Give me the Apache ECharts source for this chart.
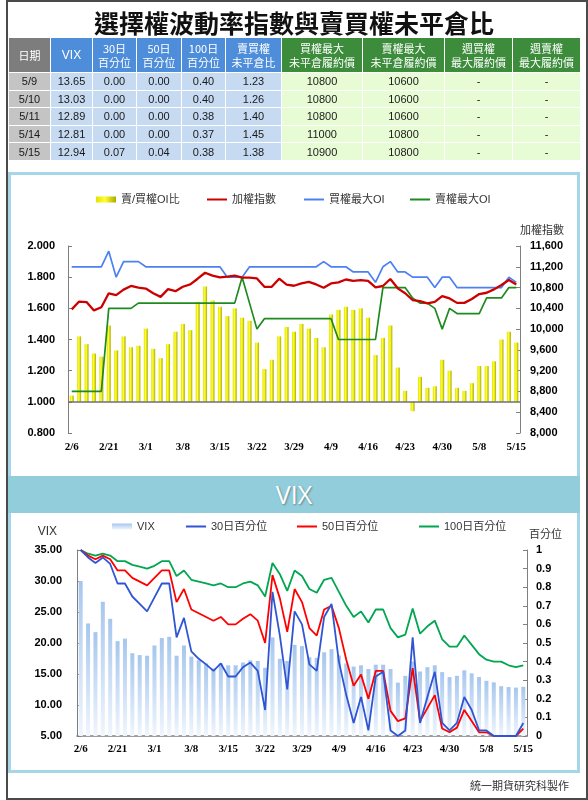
<!DOCTYPE html>
<html><head><meta charset="utf-8">
<script src="https://cdn.jsdelivr.net/npm/echarts@6/dist/echarts.min.js"></script>
<style>
html,body{margin:0;padding:0;background:#fff;}
body{width:588px;height:800px;position:relative;overflow:hidden;font-family:'Liberation Sans','Noto Sans CJK TC',sans-serif;}
#frame{position:absolute;left:6px;top:0;width:582px;height:800px;border:2px solid #4a4a4a;box-sizing:border-box;z-index:0;}
#title{position:absolute;left:0;top:5px;width:588px;text-align:center;font:bold 25px/34px 'Noto Sans CJK TC',sans-serif;color:#111;z-index:3;}
#tbl{position:absolute;left:8px;top:37px;width:572px;border-collapse:collapse;table-layout:fixed;z-index:3;}
#tbl td,#tbl th{border:1px solid #fff;padding:0;text-align:center;}
#tbl th{height:34px;color:#fff;font-weight:normal;font-size:11px;line-height:14px;font-family:'Noto Sans CJK TC','Liberation Sans',sans-serif;}
#tbl th.en{font-family:'Liberation Sans',sans-serif;font-size:12px;}
#tbl td{height:16.6px;font-size:11px;line-height:14px;color:#1a1a1a;}
.hg{background:#7d7d7d;} .hb{background:#4d8dda;} .hgr{background:#3c8c3c;}
.dg{background:#c4c4c4;} .db{background:#c6daf2;} .dgr{background:#e7fcd4;}
#box{position:absolute;left:8px;top:172px;width:572px;height:601px;border:3px solid #a5d5e6;box-sizing:border-box;z-index:1;}
#band{position:absolute;left:8px;top:476px;width:572px;height:37px;background:#92cddc;z-index:1;text-align:center;color:#fff;font:25px/37px 'Open Sans','Noto Sans',sans-serif;text-shadow:1px 1px 2px rgba(0,0,0,0.35);}
#footer{position:absolute;left:470px;top:777px;font:11px/16px 'Noto Sans CJK TC',sans-serif;color:#333;z-index:3;}
#chart{position:absolute;left:0;top:0;width:588px;height:800px;z-index:2;}
</style></head>
<body>
<div id="frame"></div>
<div id="title">選擇權波動率指數與賣買權未平倉比</div>
<table id="tbl">
<colgroup><col style="width:42px"><col style="width:42px"><col style="width:44px"><col style="width:45px"><col style="width:44px"><col style="width:56px"><col style="width:81px"><col style="width:82px"><col style="width:68px"><col style="width:68px"></colgroup>
<thead><tr id="hdr"></tr></thead>
<tbody id="tbody"></tbody>
</table>
<div id="box"></div>
<div id="band">VIX</div>
<div id="footer">統一期貨研究科製作</div>
<div id="chart"></div>
<script>
// ---------- table data ----------
const tableHeaders = ['日期','VIX','30日<br>百分位','50日<br>百分位','100日<br>百分位','賣買權<br>未平倉比','買權最大<br>未平倉履約價','賣權最大<br>未平倉履約價','週買權<br>最大履約價','週賣權<br>最大履約價'];
const tableDates = ['5/9','5/10','5/11','5/14','5/15'];
const tableVix = ['13.65','13.03','12.89','12.81','12.94'];
const table30 = ['0.00','0.00','0.00','0.00','0.07'];
const table50 = ['0.00','0.00','0.00','0.00','0.04'];
const table100 = ['0.40','0.40','0.38','0.37','0.38'];
const tableRatio = ['1.23','1.26','1.40','1.45','1.38'];
const tableCallMax = ['10800','10800','10800','11000','10900'];
const tablePutMax = ['10600','10600','10600','10800','10800'];
const tableWeekCall = ['-','-','-','-','-'];
const tableWeekPut = ['-','-','-','-','-'];

// ---------- chart data ----------
const dates = ['2/6','2/7','2/8','2/9','2/12','2/21','2/22','2/23','2/26','2/27','3/1','3/2','3/5','3/6','3/7','3/8','3/9','3/12','3/13','3/14','3/15','3/16','3/19','3/20','3/21','3/22','3/23','3/26','3/27','3/28','3/29','3/30','3/31','4/2','4/3','4/9','4/10','4/11','4/12','4/13','4/16','4/17','4/18','4/19','4/20','4/23','4/24','4/25','4/26','4/27','4/30','5/2','5/3','5/4','5/7','5/8','5/9','5/10','5/11','5/14','5/15'];
const oiRatio = [1.04,1.42,1.37,1.31,1.29,1.49,1.33,1.42,1.35,1.36,1.47,1.34,1.28,1.37,1.45,1.50,1.46,1.64,1.74,1.65,1.61,1.55,1.60,1.54,1.52,1.38,1.21,1.27,1.42,1.48,1.45,
  1.50,1.47,1.41,1.35,1.56,1.59,1.61,1.59,1.60,1.54,1.30,1.41,1.49,1.22,1.07,0.94,1.16,1.09,1.10,1.27,1.20,1.09,1.07,1.12,1.23,1.23,1.26,1.40,1.45,1.38];
const taiex = [10380,10530,10520,10360,10420,10690,10655,10760,10830,10800,10780,10690,10620,10770,10730,10815,10860,10970,11085,11030,10995,11010,11030,10990,10990,10975,10815,10815,10970,10855,10835,
  10880,10910,10860,10795,10880,10900,10955,10930,10945,10930,10805,10830,10965,10785,10690,10560,10540,10495,10525,10635,10590,10505,10505,10580,10675,10700,10765,10850,10945,10860];
const callMaxOI = [11200,11200,11200,11200,11200,11500,11000,11300,11300,11300,11200,11200,11200,11200,11200,11200,11200,11200,11200,11200,11200,11000,11000,11000,11200,11200,11200,11200,11200,11200,11200,
  11200,11200,11200,11300,11200,11200,11200,11100,11100,11100,10900,11200,11300,11100,11100,11000,11000,11000,10800,11000,11000,10800,10800,10800,10800,10800,10800,10800,11000,10900];
const putMaxOI = [8800,8800,8800,8800,8800,10400,10400,10400,10400,10500,10500,10500,10500,10500,10500,10500,10500,10500,10500,10500,10500,10500,10500,11000,10500,10000,10200,10200,10200,10200,10200,
  10200,10200,10200,10200,10200,9800,9800,9800,9800,9800,9800,10800,10800,10800,10800,10600,10500,10500,10400,10000,10400,10300,10300,10300,10300,10600,10600,10600,10800,10800];
const vix = [30.0,23.15,21.75,26.65,23.9,20.3,20.7,18.35,18.05,17.95,19.6,20.8,21.0,17.95,19.6,17.8,17.2,16.7,15.9,16.7,16.4,16.4,16.85,17.2,17.1,16.0,20.9,17.45,17.1,19.7,
  19.5,17.7,17.6,18.5,19.0,18.0,16.7,16.2,16.4,15.8,16.5,16.5,15.8,13.6,14.7,17.0,15.4,16.1,16.4,15.3,14.5,14.7,15.6,15.1,14.5,13.9,13.65,13.03,12.89,12.81,12.94];
const pct30 = [1.0,0.96,0.93,0.96,0.925,0.82,0.82,0.75,0.71,0.67,0.745,0.82,0.82,0.53,0.635,0.455,0.415,0.385,0.35,0.39,0.32,0.32,0.37,0.395,0.35,0.14,0.775,0.54,0.25,0.67,
  0.60,0.385,0.35,0.64,0.71,0.40,0.22,0.07,0.21,0.03,0.32,0.345,0.03,0.0,0.03,0.53,0.07,0.21,0.345,0.07,0.03,0.07,0.21,0.14,0.03,0.03,0,0,0,0,0.07];
const pct50 = [1.0,0.97,0.95,0.97,0.95,0.89,0.89,0.85,0.83,0.81,0.85,0.89,0.89,0.72,0.79,0.68,0.66,0.64,0.62,0.64,0.60,0.60,0.63,0.655,0.62,0.50,0.865,0.74,0.56,0.79,
  0.72,0.58,0.54,0.68,0.70,0.58,0.41,0.27,0.33,0.20,0.35,0.35,0.135,0.08,0.095,0.365,0.08,0.15,0.22,0.04,0.02,0.045,0.14,0.08,0.02,0.02,0,0,0,0,0.04];
const pct100 = [1.0,0.98,0.97,0.98,0.97,0.94,0.94,0.92,0.91,0.90,0.915,0.94,0.94,0.86,0.89,0.84,0.83,0.82,0.81,0.82,0.80,0.80,0.82,0.83,0.81,0.75,0.93,0.87,0.78,0.89,
  0.86,0.79,0.77,0.84,0.85,0.775,0.70,0.64,0.67,0.61,0.68,0.68,0.58,0.53,0.545,0.685,0.55,0.59,0.62,0.52,0.48,0.48,0.54,0.49,0.44,0.41,0.40,0.40,0.38,0.37,0.38];

// ---------- build table ----------
const hdrClasses = ['hg','hb en','hb','hb','hb','hb','hgr','hgr','hgr','hgr'];
document.getElementById('hdr').innerHTML = tableHeaders.map((h,i)=>'<th class="'+hdrClasses[i]+'">'+h+'</th>').join('');
const cols = [tableDates,tableVix,table30,table50,table100,tableRatio,tableCallMax,tablePutMax,tableWeekCall,tableWeekPut];
const dataClasses = ['dg','db','db','db','db','db','dgr','dgr','dgr','dgr'];
let rows = '';
for (let r=0;r<tableDates.length;r++){
  rows += '<tr>' + cols.map((c,i)=>'<td class="'+dataClasses[i]+'">'+c[r]+'</td>').join('') + '</tr>';
}
document.getElementById('tbody').innerHTML = rows;

// ---------- chart ----------
const chart = echarts.init(document.getElementById('chart'), null, {renderer:'canvas'});
const numFont = {fontFamily:'Liberation Sans', fontWeight:'bold', fontSize:11, color:'#000'};
const axisGray = '#7f7f7f';
const legendText = {fontFamily:"'Liberation Sans','Noto Sans CJK TC'", fontSize:11, color:'#333'};
function lg(name, left, top, h){
  return {data:[name], left:left, top:top, itemWidth:20, itemHeight:h, icon:'rect', padding:0, itemGap:0, textStyle:legendText, selectedMode:false};
}
const yellowGrad = new echarts.graphic.LinearGradient(0,0,1,0,[{offset:0,color:'#e2e200'},{offset:0.45,color:'#ffff30'},{offset:1,color:'#a9a900'}]);
const blueGrad = new echarts.graphic.LinearGradient(0,0,0,1,[{offset:0,color:'#a6c6ee'},{offset:1,color:'#f0f6fd'}]);

const option = {
  animation:false,
  legend:[
    lg('賣/買權OI比',96,194,6), lg('加權指數',207,194,2), lg('買權最大OI',304,194,2), lg('賣權最大OI',410,194,2),
    lg('VIX',112,521,6), lg('30日百分位',186,521,2), lg('50日百分位',297,521,2), lg('100日百分位',419,521,2)
  ],
  grid:[
    {left:68, right:68, top:246, bottom:367},
    {left:77, right:61, top:550, bottom:64}
  ],
  xAxis:[
    {type:'category', gridIndex:0, data:dates, boundaryGap:true,
     axisLine:{show:false}, axisTick:{show:false},
     axisLabel:{interval:4, fontFamily:'Liberation Serif', fontWeight:'bold', fontSize:11, color:'#000', margin:9}},
    {type:'category', gridIndex:1, data:dates, boundaryGap:true,
     axisLine:{show:true, onZero:false, lineStyle:{color:axisGray, width:1.5}}, axisTick:{show:false},
     axisLabel:{interval:4, fontFamily:'Liberation Serif', fontWeight:'bold', fontSize:11, color:'#000', margin:8}}
  ],
  yAxis:[
    {type:'value', gridIndex:0, position:'left', min:0.8, max:2.0, interval:0.2,
     axisLine:{show:true, lineStyle:{color:axisGray}}, axisTick:{show:true, inside:true, length:4, lineStyle:{color:axisGray}},
     splitLine:{show:false}, axisLabel:Object.assign({margin:13, formatter:v=>v.toFixed(3)}, numFont)},
    {type:'value', gridIndex:0, position:'right', min:8000, max:11600, interval:400,
     name:'加權指數', nameLocation:'end', nameGap:11,
     nameTextStyle:{fontFamily:'Noto Sans CJK TC', fontSize:11, color:'#333', align:'left'},
     axisLine:{show:true, lineStyle:{color:axisGray}}, axisTick:{show:true, inside:true, length:4, lineStyle:{color:axisGray}},
     splitLine:{show:false}, axisLabel:Object.assign({margin:10, formatter:v=>v.toLocaleString('en-US')}, numFont)},
    {type:'value', gridIndex:0, position:'left', min:-0.2, max:1.0, show:false, splitLine:{show:false}},
    {type:'value', gridIndex:1, position:'left', min:5, max:35, interval:5,
     name:'VIX', nameLocation:'end', nameGap:12,
     nameTextStyle:{fontFamily:'Liberation Sans', fontSize:12, color:'#333', align:'right', padding:[0,20,0,0]},
     axisLine:{show:true, lineStyle:{color:axisGray}}, axisTick:{show:true, inside:true, length:4, lineStyle:{color:axisGray}},
     splitLine:{show:false}, axisLabel:Object.assign({margin:15, formatter:v=>v.toFixed(2)}, numFont)},
    {type:'value', gridIndex:1, position:'right', min:0, max:1, interval:0.1,
     name:'百分位', nameLocation:'end', nameGap:11,
     nameTextStyle:{fontFamily:'Noto Sans CJK TC', fontSize:11, color:'#333', align:'left', padding:[0,0,0,2]},
     axisLine:{show:true, lineStyle:{color:axisGray}}, axisTick:{show:true, inside:true, length:4, lineStyle:{color:axisGray}},
     splitLine:{show:false}, axisLabel:Object.assign({margin:9, formatter:v=>String(Math.round(v*10)/10)}, numFont)},
    {type:'value', gridIndex:1, position:'left', min:0, max:30, show:false, splitLine:{show:false}}
  ],
  series:[
    {name:'賣/買權OI比', type:'bar', xAxisIndex:0, yAxisIndex:2, barWidth:4,
     data:oiRatio.map(v=>+(v-1).toFixed(3)), itemStyle:{color:yellowGrad},
     markLine:{silent:true, symbol:['none','none'], label:{show:false}, lineStyle:{color:'#6f6f6f', width:1.5, type:'solid'}, data:[{yAxis:0}]}},
    {name:'賣權最大OI', type:'line', xAxisIndex:0, yAxisIndex:1, data:putMaxOI, symbol:'none', lineStyle:{color:'#1f8a1f', width:1.7}, itemStyle:{color:'#1f8a1f'}},
    {name:'買權最大OI', type:'line', xAxisIndex:0, yAxisIndex:1, data:callMaxOI, symbol:'none', lineStyle:{color:'#4d80f2', width:1.7}, itemStyle:{color:'#4d80f2'}},
    {name:'加權指數', type:'line', xAxisIndex:0, yAxisIndex:1, data:taiex, symbol:'none', lineStyle:{color:'#cc0000', width:2.3}, itemStyle:{color:'#cc0000'}},
    {name:'VIX', type:'bar', xAxisIndex:1, yAxisIndex:5, barWidth:4,
     data:vix.map(v=>+(v-5).toFixed(3)), itemStyle:{color:blueGrad}},
    {name:'100日百分位', type:'line', xAxisIndex:1, yAxisIndex:4, data:pct100, symbol:'none', lineStyle:{color:'#00a650', width:1.8}, itemStyle:{color:'#00a650'}},
    {name:'50日百分位', type:'line', xAxisIndex:1, yAxisIndex:4, data:pct50, symbol:'none', lineStyle:{color:'#ff0000', width:1.8}, itemStyle:{color:'#ff0000'}},
    {name:'30日百分位', type:'line', xAxisIndex:1, yAxisIndex:4, data:pct30, symbol:'none', lineStyle:{color:'#2f55d4', width:1.8}, itemStyle:{color:'#2f55d4'}}
  ]
};
chart.setOption(option);
</script>
</body></html>
